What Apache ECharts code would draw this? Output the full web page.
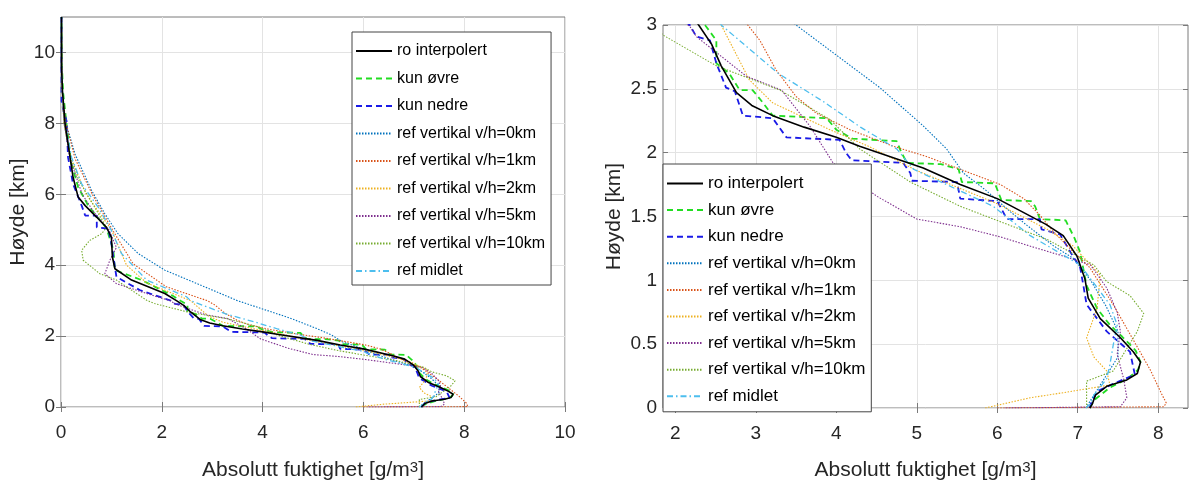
<!DOCTYPE html>
<html><head><meta charset="utf-8">
<script src="https://cdn.jsdelivr.net/npm/echarts@6/dist/echarts.min.js"></script>
<style>html,body{margin:0;padding:0;background:#fff}#c{width:1190px;height:486px}</style>
</head><body><div id="c"></div>
<script>
// ---- data: each point is [absolute humidity g/m3, height km] ----
const seriesNames = ['ro interpolert','kun øvre','kun nedre','ref vertikal v/h=0km','ref vertikal v/h=1km','ref vertikal v/h=2km','ref vertikal v/h=5km','ref vertikal v/h=10km','ref midlet'];

const roInterpolert = [[7.15,0],[7.18,0.03],[7.22,0.10],[7.36,0.17],[7.61,0.22],[7.74,0.27],[7.78,0.36],[7.69,0.44],[7.53,0.55],[7.28,0.70],[7.13,0.86],[7.09,1.01],[6.99,1.19],[6.82,1.35],[6.6,1.44],[6.0,1.64],[5.54,1.75],[5.08,1.88],[4.29,2.05],[4.0,2.12],[3.6,2.2],[3.21,2.29],[2.95,2.37],[2.76,2.47],[2.57,2.68],[2.45,2.85],[2.29,3.0],[2.06,3.2],[1.73,3.39],[1.40,3.58],[1.07,3.9],[1.02,4.23],[1.0,4.79],[0.90,5.07],[0.71,5.35],[0.48,5.68],[0.34,5.92],[0.24,6.48],[0.18,7.04],[0.08,8.0],[0.03,8.9],[0.01,9.6],[0.01,11]];

const kunOvre = [[7.15,0],[7.2,0.06],[7.4,0.16],[7.62,0.23],[7.75,0.3],[7.78,0.36],[7.72,0.45],[7.55,0.56],[7.40,0.65],[7.24,0.78],[7.11,0.96],[7.06,1.12],[7.03,1.22],[6.96,1.33],[6.85,1.47],[6.53,1.48],[6.47,1.58],[6.42,1.62],[6.05,1.63],[5.97,1.76],[5.56,1.77],[5.52,1.87],[5.3,1.91],[4.88,1.92],[4.81,2.0],[4.75,2.09],[4.2,2.11],[4.0,2.18],[3.88,2.27],[3.21,2.29],[3.09,2.39],[2.96,2.49],[2.80,2.49],[2.67,2.62],[2.51,2.70],[2.51,2.88],[2.38,2.99],[2.2,3.15],[1.6,3.58],[1.07,3.86],[1.04,4.42],[0.9,5.05],[0.54,5.68],[0.34,6.2],[0.2,6.9],[0.11,7.98],[0.04,8.9],[0.02,9.6],[0.01,11]];

const kunNedre = [[7.15,0],[7.16,0.03],[7.24,0.13],[7.44,0.19],[7.71,0.26],[7.65,0.44],[7.36,0.60],[7.11,0.81],[7.07,0.96],[7.03,1.10],[6.91,1.22],[6.78,1.36],[6.55,1.40],[6.53,1.48],[6.12,1.48],[6.0,1.62],[5.54,1.64],[5.50,1.77],[4.94,1.78],[4.92,1.84],[4.83,1.92],[4.19,1.94],[4.12,2.0],[4.04,2.10],[3.38,2.12],[3.21,2.27],[2.84,2.29],[2.74,2.48],[2.63,2.51],[2.51,2.70],[2.43,2.88],[2.26,2.91],[2.18,3.0],[1.56,3.3],[1.10,3.67],[1.04,4.23],[1.0,4.61],[0.94,5.03],[0.71,5.07],[0.71,5.40],[0.48,5.40],[0.41,5.68],[0.24,6.29],[0.14,7.04],[0.11,8.07],[0.05,8.35],[0.01,8.63],[0.01,11]];

const refV0 = [[7.1,0],[7.15,0.05],[7.3,0.2],[7.5,0.4],[7.5,0.6],[7.35,0.8],[7.16,1.0],[6.95,1.17],[6.70,1.27],[6.37,1.43],[6.12,1.56],[5.87,1.70],[5.58,1.84],[5.37,2.03],[5.08,2.21],[4.54,2.51],[3.5,3.0],[2.85,3.39],[2.06,3.86],[1.53,4.33],[1.13,4.89],[0.87,5.45],[0.61,6.1],[0.28,7.13],[0.12,7.9],[0.04,8.6],[0.01,9.5],[0.01,11]];

const refV1 = [[6.0,0],[8.07,0.01],[8.1,0.04],[8.05,0.1],[7.9,0.3],[7.72,0.5],[7.45,0.8],[7.15,1.1],[6.95,1.22],[6.70,1.38],[6.53,1.51],[6.33,1.64],[6.04,1.75],[5.54,1.87],[5.12,1.97],[4.71,2.05],[4.17,2.18],[3.75,2.31],[3.50,2.44],[3.25,2.65],[3.05,2.88],[2.9,3.0],[2.09,3.39],[1.43,4.04],[1.02,5.0],[0.62,6.0],[0.28,7.0],[0.1,8.0],[0.03,8.8],[0.01,9.6],[0.01,11]];

const refV2 = [[5.85,0],[6.41,0.08],[6.82,0.12],[7.40,0.18],[7.36,0.29],[7.2,0.4],[7.11,0.55],[7.24,0.78],[7.28,1.04],[6.94,1.27],[6.62,1.40],[6.0,1.6],[5.5,1.73],[5.0,1.86],[4.4,2.05],[3.92,2.18],[3.21,2.39],[2.92,2.57],[2.57,3.0],[1.7,3.5],[1.3,4.0],[1.15,4.5],[1.0,5.0],[0.5,6.0],[0.2,7.0],[0.06,8.0],[0.02,9],[0.01,11]];

const refV5 = [[6.1,0],[7.53,0.01],[7.61,0.08],[7.57,0.23],[7.49,0.42],[7.53,0.6],[7.49,0.75],[7.36,0.94],[7.16,1.12],[6.82,1.19],[6.45,1.26],[6.04,1.34],[5.54,1.42],[5.0,1.48],[4.5,1.66],[3.96,1.92],[3.67,2.21],[3.32,2.49],[2.88,2.6],[2.26,2.91],[2.18,2.99],[1.70,3.2],[1.10,3.48],[0.87,3.76],[0.97,4.14],[1.1,4.5],[0.95,5.0],[0.65,5.5],[0.42,6.0],[0.18,7.0],[0.06,8.0],[0.02,9],[0.01,11]];

const refV10 = [[7.11,0],[7.11,0.03],[7.11,0.21],[7.44,0.29],[7.74,0.6],[7.82,0.74],[7.65,0.88],[7.36,0.99],[7.2,1.12],[6.62,1.32],[6.16,1.43],[5.54,1.58],[4.92,1.77],[4.29,2.03],[3.92,2.26],[3.30,2.49],[2.51,2.68],[1.85,2.92],[1.70,3.01],[1.10,3.58],[0.77,3.76],[0.44,4.14],[0.41,4.42],[0.57,4.7],[0.81,4.89],[0.9,5.07],[0.6,5.8],[0.35,6.4],[0.18,7.1],[0.06,8.0],[0.02,9],[0.01,11]];

const refMidlet = [[7.1,0],[7.16,0.03],[7.20,0.10],[7.36,0.23],[7.40,0.34],[7.44,0.49],[7.49,0.65],[7.40,0.81],[7.03,1.12],[6.41,1.35],[5.95,1.58],[4.96,1.87],[4.75,2.03],[4.3,2.2],[3.84,2.4],[3.28,2.62],[2.57,3.0],[2.49,3.11],[1.70,3.58],[1.2,4.33],[1.0,4.98],[0.74,5.63],[0.41,6.29],[0.21,7.04],[0.08,8.0],[0.03,8.8],[0.01,9.6],[0.01,11]];

const leftXTicks = [0,2,4,6,8,10];
const leftYTicks = [0,2,4,6,8,10];
const rightXTicks = [2,3,4,5,6,7,8];
const rightYTicks = [0,0.5,1,1.5,2,2.5,3];
const xTitle = 'Absolutt fuktighet [g/m{s|3}]';
const yTitle = 'Høyde [km]';

// ---- styling ----
const allData = [roInterpolert,kunOvre,kunNedre,refV0,refV1,refV2,refV5,refV10,refMidlet];
const styles = [
  {color:'#000000', width:1.6, type:'solid'},
  {color:'#22dd22', width:1.8, type:[6,4]},
  {color:'#1a1ae6', width:1.8, type:[6,4]},
  {color:'#0072BD', width:1.1, type:[1.5,1.5]},
  {color:'#D95319', width:1.1, type:[1.5,1.5]},
  {color:'#EDB120', width:1.1, type:[1.5,1.5]},
  {color:'#7E2F8E', width:1.1, type:[1.5,1.5]},
  {color:'#77AC30', width:1.1, type:[1.5,1.5]},
  {color:'#4DBEEE', width:1.3, type:[6,3,1.5,3]}
];
const FONT = '"Liberation Sans", Arial, sans-serif';
const TXT = '#262626';
const AX = '#7a7a7a';
const GRIDC = '#e3e3e3';

function mkAxis(gridIndex, pos, min, max, ticks, showLabel, name, nameGap) {
  return {
    type:'value', gridIndex, position:pos, min, max,
    axisLine:{show:false},
    axisTick:{show:true, inside:true, length:5, lineStyle:{color:AX}, customValues:ticks},
    axisLabel:{show:showLabel, customValues:ticks, color:TXT, fontSize:19, fontFamily:FONT, margin:pos==='bottom'?16:6},
    splitLine:{show:showLabel, lineStyle:{color:GRIDC, width:1}},
    name: name || '', nameLocation:'middle', nameGap: nameGap || 0,
    nameTextStyle:{color:TXT, fontSize:21, fontFamily:FONT, rich:{s:{fontSize:15, fontFamily:FONT, color:TXT, verticalAlign:'top', lineHeight:10}}}
  };
}

const xAxis = [
  mkAxis(0,'bottom',0,10,leftXTicks,true,xTitle,53),
  mkAxis(1,'bottom',1.847,8.37,rightXTicks,true,xTitle,52),
  mkAxis(0,'top',0,10,leftXTicks,false),
  mkAxis(1,'top',1.847,8.37,rightXTicks,false)
];
const yAxis = [
  mkAxis(0,'left',0,11,leftYTicks,true,yTitle,32),
  mkAxis(1,'left',0,3,rightYTicks,true,yTitle,38),
  mkAxis(0,'right',0,11,leftYTicks,false),
  mkAxis(1,'right',0,3,rightYTicks,false)
];

const series = [];
for (let g = 0; g < 2; g++) {
  allData.forEach((d, i) => {
    series.push({
      type:'line', name:seriesNames[i], data:d, xAxisIndex:g, yAxisIndex:g,
      symbol:'none', showSymbol:false, clip:true, animation:false,
      lineStyle:{color:styles[i].color, width:styles[i].width, type:styles[i].type},
      itemStyle:{color:styles[i].color},
      z: 2 + (i===0?1:0)
    });
  });
}

const legendBase = {
  orient:'vertical', data:seriesNames, itemWidth:36, itemHeight:14,
  backgroundColor:'#ffffff', borderColor:'#444', borderWidth:1, borderRadius:0,
  selectedMode:false,
  itemStyle:{color:'rgba(0,0,0,0)', borderColor:'rgba(0,0,0,0)', borderWidth:0, opacity:0}
};

const option = {
  animation:false,
  backgroundColor:'#ffffff',
  grid:[
    {left:61, top:17, width:504, height:390, show:true, borderColor:AX, borderWidth:1, backgroundColor:'transparent'},
    {left:663, top:25, width:525, height:385, show:true, borderColor:AX, borderWidth:1, backgroundColor:'transparent'}
  ],
  xAxis, yAxis, series,
  legend:[
    Object.assign({}, legendBase, {left:352, top:32, itemGap:11.5, padding:[11,6,6,3], textStyle:{color:'#000', fontFamily:FONT, fontSize:16}}),
    Object.assign({}, legendBase, {left:663, top:164, itemGap:9.6, padding:[11,6,7,3], textStyle:{color:'#000', fontFamily:FONT, fontSize:17}})
  ]
};
const chart = echarts.init(document.getElementById('c'), null, {renderer:'canvas'});
chart.setOption(option);
</script>
</body></html>
